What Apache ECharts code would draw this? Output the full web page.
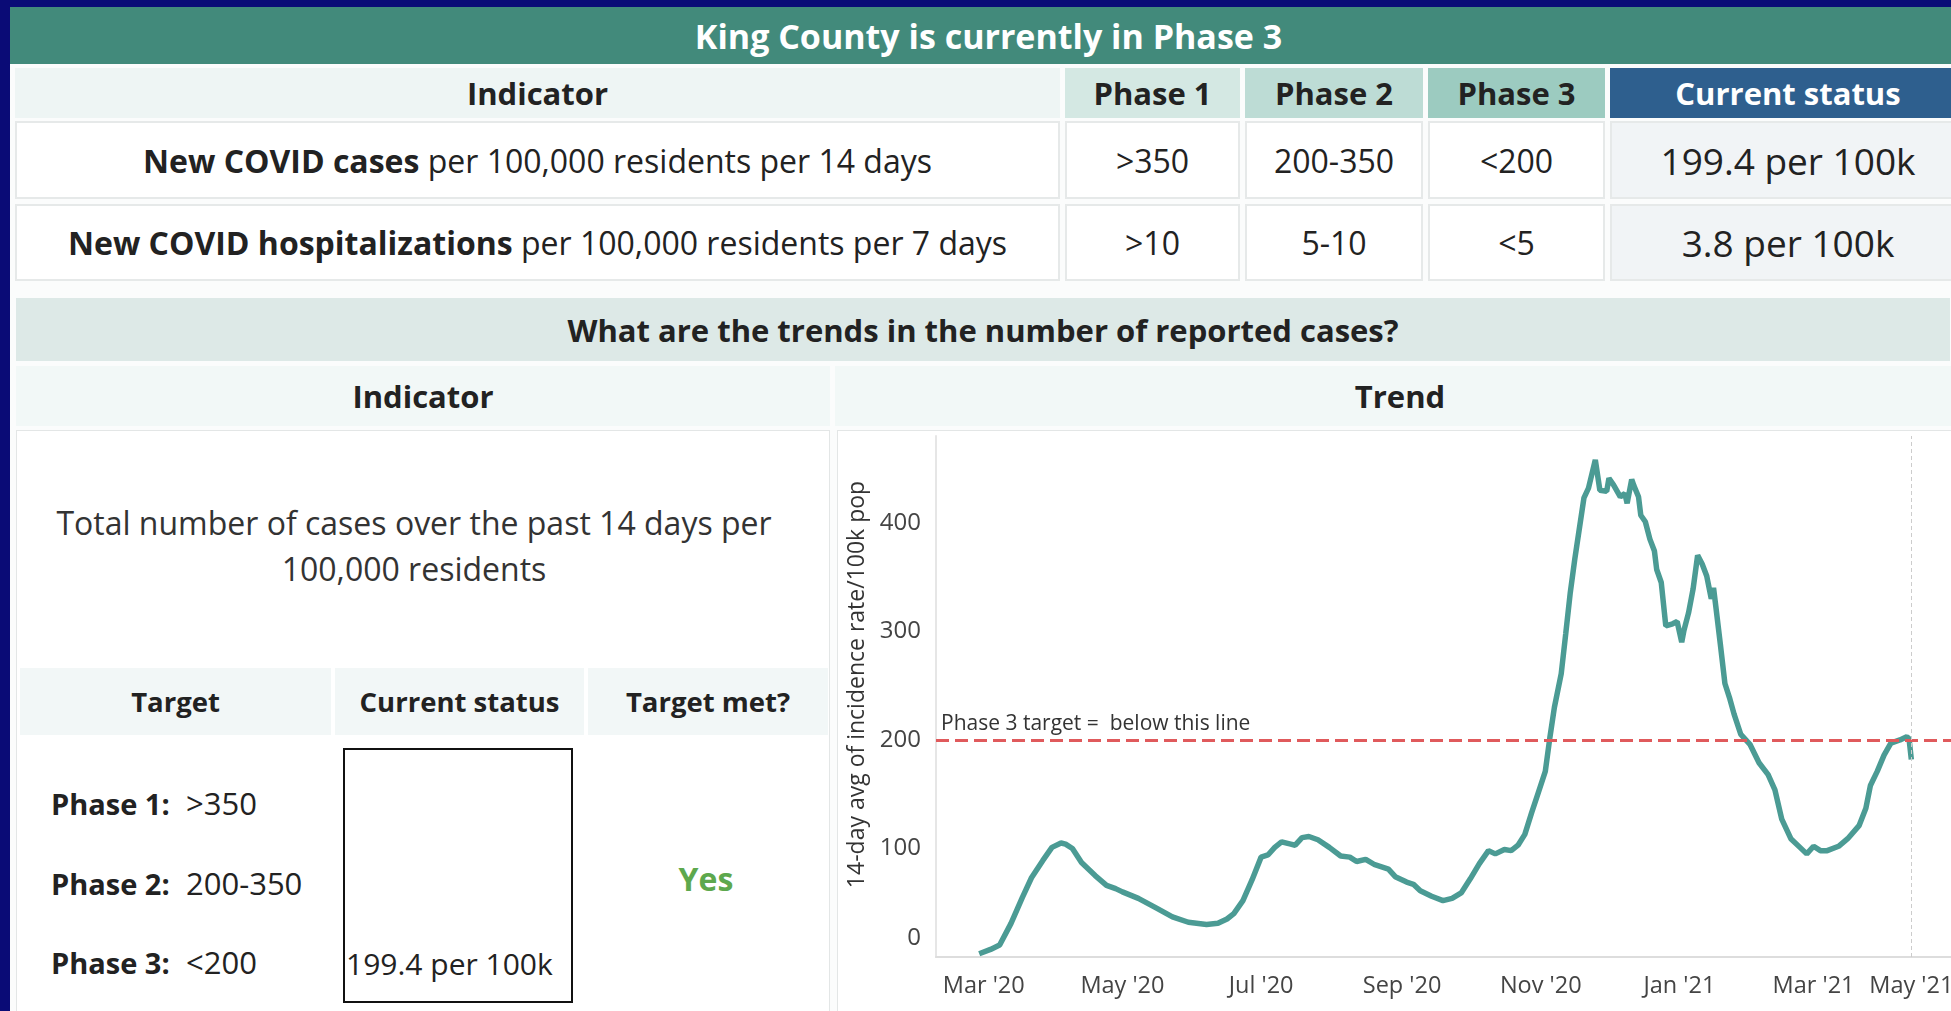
<!DOCTYPE html>
<html>
<head>
<meta charset="utf-8">
<title>King County Phase 3</title>
<script src="https://cdn.jsdelivr.net/npm/echarts@6/dist/echarts.min.js"></script>
<style>
  body {
    margin: 0;
    width: 1951px;
    height: 1011px;
    overflow: hidden;
    position: relative;
    background: #0a0b76;
    font-family: "Open Sans", sans-serif;
    color: #222;
  }
  .abs { position: absolute; box-sizing: border-box; }
  .cell {
    position: absolute;
    box-sizing: border-box;
    display: flex;
    align-items: center;
    justify-content: center;
    white-space: nowrap;
  }
  .sheet { left: 10px; top: 7px; width: 1960px; height: 1010px; background: #fbfcfc; }
  .title { left: 10px; top: 7px; width: 1957px; height: 57px; background: #428a7b; color: #fff; font-weight: 700; font-size: 34px; }
  .hdr { top: 68px; height: 50px; font-weight: 700; font-size: 31px; }
  .row1 { top: 121px; height: 78px; font-size: 32px; background: #fff; border: 2px solid #e6e9e9; }
  .row2 { top: 204px; height: 77px; font-size: 32px; background: #fff; border: 2px solid #e6e9e9; }
  .status { background: #f1f4f6; font-size: 37px; }
  .c0 { left: 15px; width: 1045px; }
  .c1 { left: 1065px; width: 175px; }
  .c2 { left: 1245px; width: 178px; }
  .c3 { left: 1428px; width: 177px; }
  .c4 { left: 1610px; width: 356px; }
  .band { left: 16px; top: 298px; width: 1934px; height: 63px; background: #dde9e7; font-weight: 700; font-size: 31px; }
  .sub { top: 366px; height: 60px; background: #f2f8f7; font-weight: 700; font-size: 31px; }
  .panel { top: 430px; height: 600px; background: #fff; border: 1px solid #e3e6e6; }
  .tgt { top: 668px; height: 67px; background: #f2f7f7; font-weight: 700; font-size: 27.5px; }
  .ph { position: absolute; font-size: 31px; line-height: 36px; white-space: nowrap; }
  .ph b { display: inline-block; width: 135px; font-size: 29px; }
</style>
</head>
<body>
<div class="abs sheet"></div>
<div class="cell title">King County is currently in Phase 3</div>

<div class="cell hdr c0" style="background:#eef5f4">Indicator</div>
<div class="cell hdr c1" style="background:#d4e8e3">Phase 1</div>
<div class="cell hdr c2" style="background:#bddcd5">Phase 2</div>
<div class="cell hdr c3" style="background:#9ccbc0">Phase 3</div>
<div class="cell hdr c4" style="background:#2e5f8e;color:#fff">Current status</div>

<div class="cell row1 c0"><b>New COVID cases</b>&nbsp;per 100,000 residents per 14 days</div>
<div class="cell row1 c1">&gt;350</div>
<div class="cell row1 c2">200-350</div>
<div class="cell row1 c3">&lt;200</div>
<div class="cell row1 c4 status">199.4 per 100k</div>

<div class="cell row2 c0"><b>New COVID hospitalizations</b>&nbsp;per 100,000 residents per 7 days</div>
<div class="cell row2 c1">&gt;10</div>
<div class="cell row2 c2">5-10</div>
<div class="cell row2 c3">&lt;5</div>
<div class="cell row2 c4 status">3.8 per 100k</div>

<div class="cell band">What are the trends in the number of reported cases?</div>
<div class="cell sub" style="left:16px;width:814px">Indicator</div>
<div class="cell sub" style="left:835px;width:1130px">Trend</div>

<div class="abs panel" style="left:16px;width:814px"></div>
<div class="abs panel" style="left:837px;width:1130px"></div>

<div class="abs" style="left:16px;top:500px;width:796px;text-align:center;font-size:32px;line-height:46px;color:#333">
  Total number of cases over the past 14 days per<br>100,000 residents
</div>

<div class="cell tgt" style="left:20px;width:311px">Target</div>
<div class="cell tgt" style="left:335px;width:249px">Current status</div>
<div class="cell tgt" style="left:588px;width:240px">Target met?</div>

<div class="ph" style="left:51px;top:785px"><b>Phase 1:</b>&gt;350</div>
<div class="ph" style="left:51px;top:865px"><b>Phase 2:</b>200-350</div>
<div class="ph" style="left:51px;top:944px"><b>Phase 3:</b>&lt;200</div>

<div class="abs" style="left:343px;top:748px;width:230px;height:255px;border:2px solid #111"></div>
<div class="ph" style="left:346px;top:946px;font-size:30px">199.4 per 100k</div>
<div class="cell" style="left:600px;top:850px;width:212px;height:56px;color:#5da84d;font-weight:700;font-size:32px">Yes</div>

<div id="chart" class="abs" style="left:837px;top:430px;width:1200px;height:581px"></div>

<script>
// 14-day case rate per 100k
var dates = [
  '2020-02-28', '2020-03-04', '2020-03-08', '2020-03-13', '2020-03-18', '2020-03-22', '2020-03-27', '2020-03-31',
  '2020-04-04', '2020-04-06', '2020-04-09', '2020-04-13', '2020-04-19', '2020-04-24', '2020-04-28', '2020-05-01',
  '2020-05-08', '2020-05-16', '2020-05-23', '2020-05-30', '2020-06-07', '2020-06-12', '2020-06-16', '2020-06-19',
  '2020-06-23', '2020-06-27', '2020-07-01', '2020-07-04', '2020-07-07', '2020-07-10', '2020-07-14', '2020-07-16',
  '2020-07-19', '2020-07-22', '2020-07-26', '2020-07-31', '2020-08-05', '2020-08-09', '2020-08-12', '2020-08-16',
  '2020-08-20', '2020-08-26', '2020-08-29', '2020-09-03', '2020-09-06', '2020-09-09', '2020-09-14', '2020-09-19',
  '2020-09-23', '2020-09-27', '2020-10-01', '2020-10-05', '2020-10-09', '2020-10-12', '2020-10-16', '2020-10-19',
  '2020-10-22', '2020-10-25', '2020-10-28', '2020-10-31', '2020-11-03', '2020-11-05', '2020-11-07', '2020-11-10',
  '2020-11-12', '2020-11-14', '2020-11-16', '2020-11-18', '2020-11-20', '2020-11-22', '2020-11-25', '2020-11-27',
  '2020-11-30', '2020-12-01', '2020-12-03', '2020-12-06', '2020-12-08', '2020-12-09', '2020-12-11', '2020-12-12',
  '2020-12-14', '2020-12-15', '2020-12-17', '2020-12-19', '2020-12-21', '2020-12-22', '2020-12-24', '2020-12-26',
  '2020-12-29', '2020-12-31', '2021-01-02', '2021-01-03', '2021-01-05', '2021-01-07', '2021-01-09', '2021-01-11',
  '2021-01-13', '2021-01-15', '2021-01-16', '2021-01-17', '2021-01-19', '2021-01-21', '2021-01-23', '2021-01-25',
  '2021-01-28', '2021-02-01', '2021-02-05', '2021-02-09', '2021-02-12', '2021-02-15', '2021-02-19', '2021-02-23',
  '2021-02-26', '2021-03-01', '2021-03-04', '2021-03-07', '2021-03-12', '2021-03-16', '2021-03-21', '2021-03-24',
  '2021-03-26', '2021-03-29', '2021-04-01', '2021-04-04', '2021-04-08', '2021-04-11', '2021-04-12', '2021-04-13'
];
var rates = [
  3, 7, 11, 31, 55, 73, 89, 101,
  105, 104, 100, 87, 75, 66, 63, 60,
  54, 45, 37, 32, 30, 31, 35, 40,
  52, 71, 92, 94, 101, 106, 104, 103,
  110, 111, 108, 101, 93, 92, 88, 90,
  85, 81, 74, 69, 67, 61, 56, 52,
  54, 59, 72, 86, 98, 95, 99, 98,
  103, 113, 133, 152, 171, 202, 230, 261,
  298, 336, 367, 395, 423, 432, 458, 430,
  429, 441, 435, 424, 427, 418, 440, 434,
  424, 407, 401, 385, 374, 357, 345, 305,
  307, 309, 290, 301, 317, 339, 370, 362,
  351, 330, 340, 323, 288, 252, 239, 224,
  205, 196, 179, 168, 154, 127, 109, 101,
  95, 102, 98, 98, 102, 109, 121, 137,
  158, 171, 186, 197, 200, 203, 201, 182
];
var tickDates = ['2020-03-01', '2020-05-01', '2020-07-01', '2020-09-01', '2020-11-01', '2021-01-01', '2021-03-01', '2021-04-13'];
var tickLabels = ["Mar '20", "May '20", "Jul '20", "Sep '20", "Nov '20", "Jan '21", "Mar '21", "May '21"];
var yTicks = [0, 100, 200, 300, 400];
var target = 200;

function toTime(s) {
  var p = s.split('-');
  return new Date(+p[0], +p[1] - 1, +p[2]).getTime();
}

var tickTimes = tickDates.map(toTime);
var font = '"Open Sans", sans-serif';

var chart = echarts.init(document.getElementById('chart'));
chart.setOption({
  animation: false,
  grid: { left: 99, top: 6, right: 37, bottom: 54, containLabel: false, outerBoundsMode: 'none' },
  xAxis: {
    type: 'value',
    min: toTime('2020-02-09'),
    max: toTime('2021-05-22'),
    axisLine: { lineStyle: { color: '#dddddd', width: 2 } },
    axisTick: { show: false },
    splitLine: { show: false },
    axisLabel: {
      customValues: tickTimes,
      hideOverlap: false,
      color: '#444',
      fontSize: 23.5,
      fontFamily: font,
      margin: 17,
      formatter: function (val) {
        for (var i = 0; i < tickTimes.length; i++) {
          if (Math.abs(tickTimes[i] - val) < 43200000) return tickLabels[i];
        }
        return '';
      }
    }
  },
  yAxis: {
    type: 'value',
    min: 0,
    max: 480,
    name: '14-day avg of incidence rate/100k pop',
    nameLocation: 'middle',
    nameGap: 64,
    nameTextStyle: { color: '#333', fontSize: 23, fontFamily: font, padding: [0, 0, 0, 24] },
    axisLine: { show: true, lineStyle: { color: '#e6e6e6', width: 2 } },
    axisTick: { show: false },
    splitLine: { show: false },
    axisLabel: {
      customValues: yTicks,
      color: '#444',
      fontSize: 24,
      fontFamily: font,
      margin: 15,
      formatter: function (v) { return v === 0 ? '{z|0}' : String(v); },
      rich: { z: { fontSize: 24, fontFamily: font, color: '#444', padding: [0, 0, 38, 0] } }
    }
  },
  series: [{
    type: 'line',
    data: dates.map(function (d, i) { return [toTime(d), rates[i]]; }),
    showSymbol: false,
    lineStyle: { color: '#4b9b94', width: 5.5 },
    itemStyle: { color: '#4b9b94' },
    markLine: {
      silent: true,
      symbol: ['none', 'none'],
      data: [
        {
          yAxis: target,
          lineStyle: { color: '#e05a5c', type: [13, 6], width: 3 },
          label: {
            show: true,
            position: 'insideStartTop',
            formatter: 'Phase 3 target =  below this line',
            color: '#333',
            fontSize: 21,
            fontFamily: font,
            distance: 5
          }
        },
        {
          xAxis: toTime(dates[dates.length - 1]),
          lineStyle: { color: '#cccccc', type: [4, 3], width: 1 },
          label: { show: false }
        }
      ]
    }
  }]
});
</script>
</body>
</html>
